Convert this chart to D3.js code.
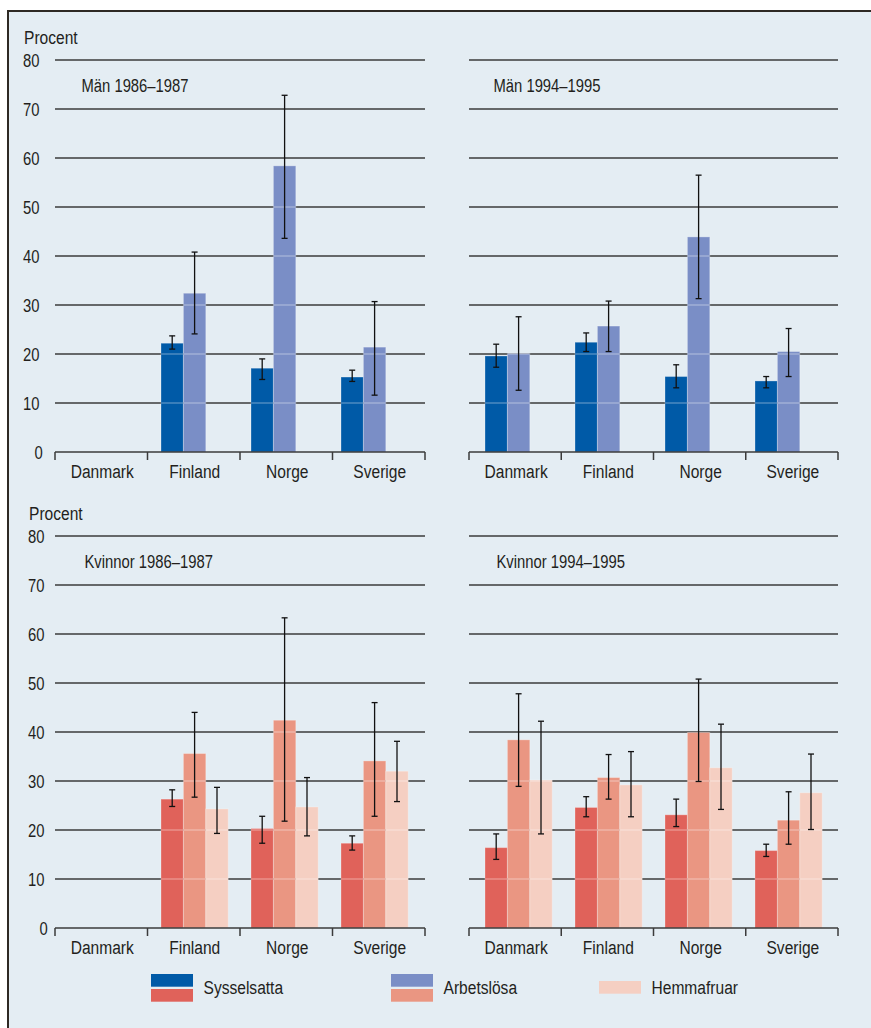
<!DOCTYPE html>
<html>
<head>
<meta charset="utf-8">
<script src="https://cdn.jsdelivr.net/npm/d3@7"></script>
<style>
  html, body { margin: 0; padding: 0; background: #ffffff; }
  svg { display: block; }
  text { font-family: "Liberation Sans", Arial, sans-serif; fill: #231f1c; }
</style>
</head>
<body>
<script>
// Categories, series and axis ticks
const categories = ["Danmark", "Finland", "Norge", "Sverige"];
const seriesNames = ["Sysselsatta", "Arbetslösa", "Hemmafruar"];
const yTicks = [0, 10, 20, 30, 40, 50, 60, 70, 80];

// Män 1986–1987 (no data for Danmark)
const men8687Syss     = [null, 22.2, 17.1, 15.3];
const men8687SyssLow  = [null, 21.0, 14.8, 14.4];
const men8687SyssHigh = [null, 23.7, 19.0, 16.7];
const men8687Arb      = [null, 32.4, 58.4, 21.4];
const men8687ArbLow   = [null, 24.1, 43.6, 11.6];
const men8687ArbHigh  = [null, 40.8, 72.8, 30.7];

// Män 1994–1995
const men9495Syss     = [19.6, 22.4, 15.4, 14.5];
const men9495SyssLow  = [17.3, 20.5, 13.1, 13.1];
const men9495SyssHigh = [22.0, 24.3, 17.8, 15.4];
const men9495Arb      = [20.1, 25.7, 43.9, 20.5];
const men9495ArbLow   = [12.6, 20.5, 31.3, 15.4];
const men9495ArbHigh  = [27.6, 30.8, 56.5, 25.2];

// Kvinnor 1986–1987 (no data for Danmark)
const women8687Syss     = [null, 26.3, 20.3, 17.3];
const women8687SyssLow  = [null, 24.8, 17.3, 15.9];
const women8687SyssHigh = [null, 28.2, 22.8, 18.8];
const women8687Arb      = [null, 35.6, 42.4, 34.1];
const women8687ArbLow   = [null, 26.7, 21.8, 22.8];
const women8687ArbHigh  = [null, 44.0, 63.3, 46.0];
const women8687Hem      = [null, 24.3, 24.7, 32.0];
const women8687HemLow   = [null, 19.3, 18.8, 25.8];
const women8687HemHigh  = [null, 28.7, 30.7, 38.1];

// Kvinnor 1994–1995
const women9495Syss     = [16.4, 24.6, 23.1, 15.8];
const women9495SyssLow  = [14.0, 22.7, 20.7, 14.6];
const women9495SyssHigh = [19.2, 26.8, 26.3, 17.1];
const women9495Arb      = [38.4, 30.7, 39.9, 22.0];
const women9495ArbLow   = [28.9, 26.3, 29.9, 17.1];
const women9495ArbHigh  = [47.8, 35.4, 50.8, 27.8];
const women9495Hem      = [30.2, 29.2, 32.7, 27.6];
const women9495HemLow   = [19.2, 22.7, 24.2, 20.1];
const women9495HemHigh  = [42.2, 36.0, 41.6, 35.5];

// Colours
const menColors   = { "Sysselsatta": "#005aa7", "Arbetslösa": "#7a8ec6" };
const womenColors = { "Sysselsatta": "#e0625a", "Arbetslösa": "#ea9682", "Hemmafruar": "#f5cfc2" };
const bgColor = "#e4edf3";
const gridColor = "#3b3b3b";

const W = 871, H = 1028;
const NARROW = 0.82;   // horizontal squeeze giving a condensed typeface
const svg = d3.select("body").append("svg").attr("width", W).attr("height", H);

// Places a condensed text label at (x, y)
function label(parent, x, y, str, anchor, squeeze) {
  return parent.append("text")
    .attr("transform", `translate(${x},${y}) scale(${squeeze || NARROW},1)`)
    .attr("text-anchor", anchor || "start")
    .attr("font-size", 19)
    .text(str);
}

// Panel background and frame
svg.append("rect").attr("x", 0).attr("y", 0).attr("width", W).attr("height", H).attr("fill", "#ffffff");
svg.append("rect").attr("x", 7.5).attr("y", 11).attr("width", W - 7.5).attr("height", H - 11).attr("fill", bgColor);
svg.append("line").attr("x1", 7).attr("x2", W).attr("y1", 11).attr("y2", 11)
  .attr("stroke", "#2e2924").attr("stroke-width", 1.8);
svg.append("line").attr("x1", 8).attr("x2", 8).attr("y1", 10).attr("y2", H)
  .attr("stroke", "#2e2924").attr("stroke-width", 2);

function series(name, values, low, high) {
  return { name, values, low, high };
}

const panels = [
  { title: "Män 1986–1987", x0: 55, x1: 425, base: 452, left: true, labelRight: 39.5, titleX: 81.5, colors: menColors,
    series: [series("Sysselsatta", men8687Syss, men8687SyssLow, men8687SyssHigh),
             series("Arbetslösa", men8687Arb, men8687ArbLow, men8687ArbHigh)] },
  { title: "Män 1994–1995", x0: 469, x1: 838, base: 452, left: false, titleX: 493.5, colors: menColors,
    series: [series("Sysselsatta", men9495Syss, men9495SyssLow, men9495SyssHigh),
             series("Arbetslösa", men9495Arb, men9495ArbLow, men9495ArbHigh)] },
  { title: "Kvinnor 1986–1987", x0: 55, x1: 425, base: 928, left: true, labelRight: 44.5, titleX: 84.5, colors: womenColors,
    series: [series("Sysselsatta", women8687Syss, women8687SyssLow, women8687SyssHigh),
             series("Arbetslösa", women8687Arb, women8687ArbLow, women8687ArbHigh),
             series("Hemmafruar", women8687Hem, women8687HemLow, women8687HemHigh)] },
  { title: "Kvinnor 1994–1995", x0: 469, x1: 838, base: 928, left: false, titleX: 496.5, colors: womenColors,
    series: [series("Sysselsatta", women9495Syss, women9495SyssLow, women9495SyssHigh),
             series("Arbetslösa", women9495Arb, women9495ArbLow, women9495ArbHigh),
             series("Hemmafruar", women9495Hem, women9495HemLow, women9495HemHigh)] }
];

function drawPanel(p) {
  const g = svg.append("g");
  const y = d3.scaleLinear().domain([0, 80]).range([p.base, p.base - 392]);
  const xAxis = d3.scaleBand().domain(categories).range([p.x0, p.x1]);
  const xGroup = d3.scaleBand().domain(categories)
    .range([p.x0 + 16, p.x0 + 16 + 337.2]).paddingInner(0.2533).paddingOuter(0);
  const xSeries = d3.scaleBand().domain(seriesNames).range([0, xGroup.bandwidth()]);

  // Horizontal gridlines
  g.selectAll("line.grid").data(yTicks.filter(t => t > 0)).join("line")
    .attr("class", "grid")
    .attr("x1", p.x0).attr("x2", p.x1)
    .attr("y1", d => y(d)).attr("y2", d => y(d))
    .attr("stroke", gridColor).attr("stroke-width", 1.5);

  // Bars
  const bars = [];
  p.series.forEach(s => {
    s.values.forEach((v, i) => {
      if (v == null) return;
      bars.push({ cat: categories[i], name: s.name, value: v, low: s.low[i], high: s.high[i] });
    });
  });

  g.selectAll("rect.bar").data(bars).join("rect")
    .attr("class", "bar")
    .attr("x", d => xGroup(d.cat) + xSeries(d.name))
    .attr("y", d => y(d.value))
    .attr("width", xSeries.bandwidth())
    .attr("height", d => y(0) - y(d.value))
    .attr("fill", d => p.colors[d.name])
    .attr("stroke", "rgba(255,255,255,0.28)")
    .attr("stroke-width", 1);

  // Gridlines show faintly through the bars
  const ghosts = [];
  bars.forEach(b => yTicks.filter(t => t > 0 && t < b.value).forEach(t => ghosts.push({ b, t })));
  g.selectAll("line.ghost").data(ghosts).join("line")
    .attr("class", "ghost")
    .attr("x1", d => xGroup(d.b.cat) + xSeries(d.b.name) + 0.5)
    .attr("x2", d => xGroup(d.b.cat) + xSeries(d.b.name) + xSeries.bandwidth() - 0.5)
    .attr("y1", d => y(d.t)).attr("y2", d => y(d.t))
    .attr("stroke", "rgba(255,255,255,0.3)").attr("stroke-width", 1.5);

  // Confidence intervals
  const eb = g.selectAll("g.err").data(bars).join("g").attr("class", "err")
    .attr("transform", d => `translate(${xGroup(d.cat) + xSeries(d.name) + xSeries.bandwidth() / 2},0)`);
  eb.append("line").attr("x1", 0).attr("x2", 0)
    .attr("y1", d => y(d.high)).attr("y2", d => y(d.low))
    .attr("stroke", "#111").attr("stroke-width", 1.3);
  eb.append("line").attr("x1", -3).attr("x2", 3)
    .attr("y1", d => y(d.high)).attr("y2", d => y(d.high))
    .attr("stroke", "#111").attr("stroke-width", 1.3);
  eb.append("line").attr("x1", -3).attr("x2", 3)
    .attr("y1", d => y(d.low)).attr("y2", d => y(d.low))
    .attr("stroke", "#111").attr("stroke-width", 1.3);

  // Baseline with category separators
  g.append("line").attr("x1", p.x0).attr("x2", p.x1).attr("y1", y(0)).attr("y2", y(0))
    .attr("stroke", gridColor).attr("stroke-width", 1.5);
  const sepX = categories.map(c => xAxis(c)).concat([p.x1]);
  g.selectAll("line.sep").data(sepX).join("line")
    .attr("class", "sep")
    .attr("x1", d => d).attr("x2", d => d)
    .attr("y1", y(0)).attr("y2", y(0) + 8)
    .attr("stroke", gridColor).attr("stroke-width", 1.5);

  // Category labels
  categories.forEach(c => label(g, xAxis(c) + xAxis.bandwidth() / 2 + 1, y(0) + 26.3, c, "middle"));

  // Panel title
  label(g, p.titleX, y(80) + 32.3, p.title, "start", 0.78);

  if (p.left) {
    yTicks.forEach(t => label(g, t === 0 ? p.labelRight + 3.3 : p.labelRight, y(t) + 6.7, String(t), "end", 0.78));
    label(g, p.labelRight - 15.5, y(80) - 16.3, "Procent");
  }
}

panels.forEach(drawPanel);

// Legend: men's colour above women's colour for shared series
const legendItems = [
  { name: "Sysselsatta", x: 151 },
  { name: "Arbetslösa", x: 391 },
  { name: "Hemmafruar", x: 599 }
];
const lg = svg.append("g");
legendItems.forEach(item => {
  const sw = 42, sh = 12.7;
  if (menColors[item.name]) {
    lg.append("rect").attr("x", item.x).attr("y", 974).attr("width", sw).attr("height", sh)
      .attr("fill", menColors[item.name]);
    lg.append("rect").attr("x", item.x).attr("y", 989).attr("width", sw).attr("height", sh)
      .attr("fill", womenColors[item.name]);
  } else {
    lg.append("rect").attr("x", item.x).attr("y", 981).attr("width", sw).attr("height", sh)
      .attr("fill", womenColors[item.name]);
  }
  label(lg, item.x + 52.5, 994.3, item.name);
});
</script>
</body>
</html>
